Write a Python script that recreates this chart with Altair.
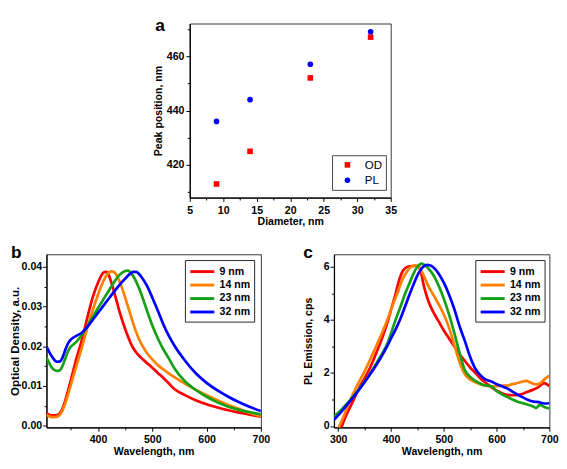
import altair as alt
import pandas as pd

F = "Liberation Sans"
letters = ["a", "b", "c"]
sizes = ["9 nm", "14 nm", "23 nm", "32 nm"]
colors = ["#ff0000", "#ff8000", "#16a016", "#0000ff"]

# ---- panel a: peak position vs diameter
diam = [9, 14, 23, 32]
od_peak = [413, 425, 452, 467]
pl_peak = [436, 444, 457, 469]
series_a = ["OD", "PL"]
colors_a = ["#ff0000", "#0000ff"]

# ---- panel b: optical density spectra
b_wl = [305, 310, 315, 320, 325, 330, 335, 340, 345, 350, 355, 360, 370, 380, 390,
        400, 405, 410, 415, 420, 425, 430, 440, 450, 455, 460, 465, 470, 480, 490,
        500, 510, 520, 530, 540, 560, 580, 600, 620, 640, 660, 680, 700]
b_9 = [0.0032, 0.0028, 0.0026, 0.0026, 0.0027, 0.0032, 0.0045, 0.0065, 0.0090, 0.0115,
       0.0142, 0.0168, 0.0215, 0.0270, 0.0322, 0.0360, 0.0375, 0.0385, 0.0387, 0.0378,
       0.0358, 0.0335, 0.0285, 0.0243, 0.0225, 0.0208, 0.0195, 0.0185, 0.0170, 0.0158,
       0.0146, 0.0133, 0.0121, 0.0107, 0.0093, 0.0077, 0.0064, 0.0054, 0.0046, 0.0039,
       0.0033, 0.0028, 0.0023]
b_14 = [0.0028, 0.0024, 0.0022, 0.0022, 0.0023, 0.0028, 0.0040, 0.0058, 0.0080, 0.0103,
        0.0127, 0.0150, 0.0196, 0.0245, 0.0290, 0.0330, 0.0348, 0.0364, 0.0377, 0.0385,
        0.0388, 0.0386, 0.0362, 0.0322, 0.0300, 0.0278, 0.0256, 0.0236, 0.0205, 0.0183,
        0.0167, 0.0153, 0.0142, 0.0132, 0.0123, 0.0106, 0.0091, 0.0077, 0.0064, 0.0052,
        0.0042, 0.0032, 0.0024]
b_23 = [0.0172, 0.0158, 0.0146, 0.0140, 0.0138, 0.0140, 0.0152, 0.0170, 0.0188, 0.0199,
        0.0205, 0.0211, 0.0228, 0.0250, 0.0273, 0.0296, 0.0307, 0.0318, 0.0329, 0.0340,
        0.0351, 0.0362, 0.0380, 0.0389, 0.0390, 0.0385, 0.0376, 0.0363, 0.0330, 0.0290,
        0.0252, 0.0220, 0.0193, 0.0170, 0.0146, 0.0112, 0.0090, 0.0073, 0.0059, 0.0048,
        0.0040, 0.0034, 0.0029]
b_32 = [0.0200, 0.0186, 0.0174, 0.0165, 0.0161, 0.0162, 0.0173, 0.0192, 0.0208, 0.0217,
        0.0222, 0.0226, 0.0234, 0.0248, 0.0266, 0.0284, 0.0293, 0.0302, 0.0311, 0.0320,
        0.0329, 0.0338, 0.0355, 0.0370, 0.0377, 0.0383, 0.0387, 0.0387, 0.0374, 0.0352,
        0.0322, 0.0290, 0.0256, 0.0227, 0.0203, 0.0164, 0.0132, 0.0108, 0.0089, 0.0073,
        0.0059, 0.0047, 0.0037]

# ---- panel c: PL emission spectra
c_wl_9 = [305, 315, 327, 340, 350, 358, 370, 382, 394, 401, 409, 414, 420, 427, 435, 445,
          452, 456, 462, 470, 480, 490, 500, 510, 520, 530, 540, 550, 560, 570, 580, 590,
          600, 610, 620, 630, 640, 650, 660, 670, 680, 690, 700]
c_9 = [-0.1, 0.4, 0.9, 1.45, 1.8, 2.1, 2.65, 3.25, 3.95, 4.45, 5.0, 5.4, 5.75, 5.95, 6.02,
       6.03, 6.0, 5.85, 5.3, 4.75, 4.3, 3.95, 3.6, 3.3, 3.0, 2.7, 2.45, 2.2, 2.0, 1.78,
       1.62, 1.47, 1.33, 1.24, 1.18, 1.16, 1.17, 1.22, 1.3, 1.38, 1.48, 1.62, 1.5]
c_wl_14 = [300, 310, 321, 335, 351, 365, 375, 385, 394, 403, 413, 420, 427, 435, 445, 452,
           460, 470, 480, 490, 500, 510, 520, 530, 540, 550, 560, 570, 580, 590, 600, 610,
           620, 630, 640, 650, 657, 665, 675, 682, 690, 700]
c_14 = [-0.1, 0.35, 0.9, 1.5, 2.1, 2.7, 3.15, 3.6, 4.05, 4.55, 5.05, 5.45, 5.72, 5.95, 6.05,
        6.02, 5.75, 5.3, 4.95, 4.6, 4.2, 3.7, 3.05, 2.4, 1.95, 1.75, 1.65, 1.57, 1.52, 1.5,
        1.5, 1.52, 1.52, 1.58, 1.62, 1.68, 1.7, 1.63, 1.57, 1.6, 1.75, 1.9]
c_wl_23 = [292, 305, 320, 335, 350, 365, 380, 394, 401, 409, 418, 427, 435, 442, 450, 458,
           465, 470, 480, 490, 500, 510, 520, 530, 540, 550, 560, 575, 590, 600, 610, 620,
           630, 640, 650, 660, 668, 675, 682, 690, 700]
c_23 = [0.36, 0.6, 0.92, 1.28, 1.68, 2.12, 2.62, 3.15, 3.55, 4.02, 4.5, 5.0, 5.38, 5.72, 6.0,
        6.12, 6.05, 5.95, 5.7, 5.3, 4.8, 4.2, 3.5, 2.75, 2.1, 1.85, 1.7, 1.55, 1.5, 1.32,
        1.2, 1.1, 1.0, 0.92, 0.86, 0.8, 0.75, 0.68, 0.8, 0.72, 0.66]
c_wl_32 = [292, 305, 320, 335, 350, 365, 380, 392, 400, 409, 418, 427, 436, 444, 452, 460,
           468, 475, 480, 490, 500, 510, 520, 530, 540, 550, 560, 570, 580, 590, 600, 610,
           620, 630, 640, 650, 660, 670, 680, 690, 700]
c_32 = [0.24, 0.52, 0.88, 1.25, 1.65, 2.08, 2.55, 2.98, 3.3, 3.65, 4.05, 4.52, 5.0, 5.4, 5.75,
        5.98, 6.07, 6.05, 5.98, 5.75, 5.4, 4.95, 4.4, 3.75, 3.2, 2.6, 2.15, 1.9, 1.75, 1.68,
        1.58, 1.5, 1.42, 1.3, 1.18, 1.08, 0.98, 0.92, 0.9, 0.85, 0.86]

# ---------------------------------------------------------------------------
common = dict(labelFont=F, labelFontWeight="bold", labelFontSize=11, labelColor="black",
              titleFont=F, titleFontWeight="bold", titleFontSize=11, titleColor="black",
              grid=False, domainColor="black", domainWidth=1.3, tickColor="black",
              tickWidth=1, labelFlush=False, labelOverlap=False, labelBound=False)


def axis(title, values, test, fmt=None, **kw):
    d = dict(common)
    d.update(kw)
    extra = {}
    if fmt:
        extra["format"] = fmt
    return alt.Axis(title=title, values=values,
                    labelExpr="(" + test + ") ? datum.label : ''",
                    tickSize={"condition": {"test": test, "value": 4}, "value": 2.5},
                    **extra, **d)


def letter(t, x, y):
    return alt.Chart(pd.DataFrame({"t": [t]})).mark_text(
        font=F, fontSize=18, fontWeight="bold", align="left", baseline="top",
        color="black").encode(x=alt.value(x), y=alt.value(y), text="t:N")


# ---- panel a
df_a = pd.DataFrame({"d": diam + diam, "p": od_peak + pl_peak,
                     "s": [series_a[0]] * 4 + [series_a[1]] * 4})
leg_a = alt.Legend(title=None, orient="none", legendX=148, legendY=137, fillColor="white",
                   strokeColor="#444", padding=4, symbolSize=34, symbolOffset=6,
                   labelFont=F, labelFontSize=12, labelColor="black", labelOffset=12,
                   rowPadding=4)
pts = alt.Chart(df_a).mark_point(filled=True, opacity=1, size=34).encode(
    x=alt.X("d:Q", scale=alt.Scale(domain=[5, 35], nice=False, zero=False),
            axis=axis("Diameter, nm", [5 + 2.5 * i for i in range(13)],
                      "datum.value % 5 === 0", labelPadding=4, titlePadding=0)),
    y=alt.Y("p:Q", scale=alt.Scale(domain=[408, 472], nice=False, zero=False),
            axis=axis("Peak position, nm", [410, 420, 430, 440, 450, 460, 470],
                      "datum.value % 20 === 0", labelPadding=2, titlePadding=3)),
    color=alt.Color("s:N", scale=alt.Scale(domain=series_a, range=colors_a), legend=leg_a),
    shape=alt.Shape("s:N", scale=alt.Scale(domain=series_a, range=["square", "circle"]),
                    legend=leg_a),
)
panel_a = alt.layer(pts, letter(letters[0], -36, -6)).properties(width=209, height=181)

# ---- panel b
df_b = pd.DataFrame({"wl": b_wl * 4, "v": b_9 + b_14 + b_23 + b_32,
                     "s": sum([[s] * len(b_wl) for s in sizes], [])})


def leg_lines(x):
    return alt.Legend(title=None, orient="none", legendX=x, legendY=6, fillColor="white",
                      strokeColor="#222", padding=4, symbolType="M-2,0H2", symbolSize=156,
                      symbolStrokeWidth=3, symbolOffset=6, labelFont=F, labelFontSize=11,
                      labelFontWeight="bold", labelColor="black", labelOffset=10,
                      rowPadding=-2)


b_test = "abs(datum.value*100 - round(datum.value*100)) < 0.001"
lines_b = alt.Chart(df_b).mark_line(strokeWidth=2.8, interpolate="monotone", clip=True).encode(
    x=alt.X("wl:Q", scale=alt.Scale(domain=[305, 700], nice=False, zero=False),
            axis=axis("Wavelength, nm", [350, 400, 450, 500, 550, 600, 650, 700],
                      "datum.value % 100 === 0", labelPadding=3, titlePadding=1)),
    y=alt.Y("v:Q", scale=alt.Scale(domain=[-0.0004, 0.0431], nice=False, zero=False),
            axis=axis("Optical Density, a.u.", [0.005 * i for i in range(9)], b_test,
                      fmt=".2f", labelPadding=1, titlePadding=0, titleFontSize=12)),
    color=alt.Color("s:N", scale=alt.Scale(domain=sizes, range=colors), legend=leg_lines(144)),
)
panel_b = alt.layer(lines_b, letter(letters[1], -37, -10)).properties(width=223, height=180)

# ---- panel c
df_c = pd.DataFrame({"wl": c_wl_9 + c_wl_14 + c_wl_23 + c_wl_32,
                     "v": c_9 + c_14 + c_23 + c_32,
                     "s": [sizes[0]] * len(c_9) + [sizes[1]] * len(c_14)
                     + [sizes[2]] * len(c_23) + [sizes[3]] * len(c_32)})
lines_c = alt.Chart(df_c).mark_line(strokeWidth=2.8, interpolate="monotone", clip=True).encode(
    x=alt.X("wl:Q", scale=alt.Scale(domain=[292, 700], nice=False, zero=False),
            axis=axis("Wavelength, nm", [300, 350, 400, 450, 500, 550, 600, 650, 700],
                      "datum.value % 100 === 0", labelPadding=3, titlePadding=1)),
    y=alt.Y("v:Q", scale=alt.Scale(domain=[-0.05, 6.47], nice=False, zero=False),
            axis=axis("PL Emission, cps", [0, 1, 2, 3, 4, 5, 6], "datum.value % 2 === 0",
                      labelPadding=1, titlePadding=10)),
    color=alt.Color("s:N", scale=alt.Scale(domain=sizes, range=colors), legend=leg_lines(147)),
)
panel_c = alt.layer(lines_c, letter(letters[2], -32, -10)).properties(width=224, height=180)

spacer = alt.Chart(pd.DataFrame({"t": [0]})).mark_point(opacity=0, size=1).encode(
    x=alt.value(0), y=alt.value(0)).properties(width=1, height=1,
                                               view=alt.ViewBackground(stroke=None))

top = alt.hconcat(spacer, panel_a, spacing=109).resolve_scale(
    color="independent", shape="independent")
bottom = alt.hconcat(panel_b, panel_c, spacing=33).resolve_scale(color="independent")
chart = alt.vconcat(top, bottom, spacing=17).properties(
    padding={"left": 0, "top": 0, "right": 0, "bottom": 0}
).configure_view(stroke="#333", strokeWidth=1).resolve_scale(
    color="independent", shape="independent")

chart.save("out.html", embed_options={"renderer": "svg", "actions": False})
